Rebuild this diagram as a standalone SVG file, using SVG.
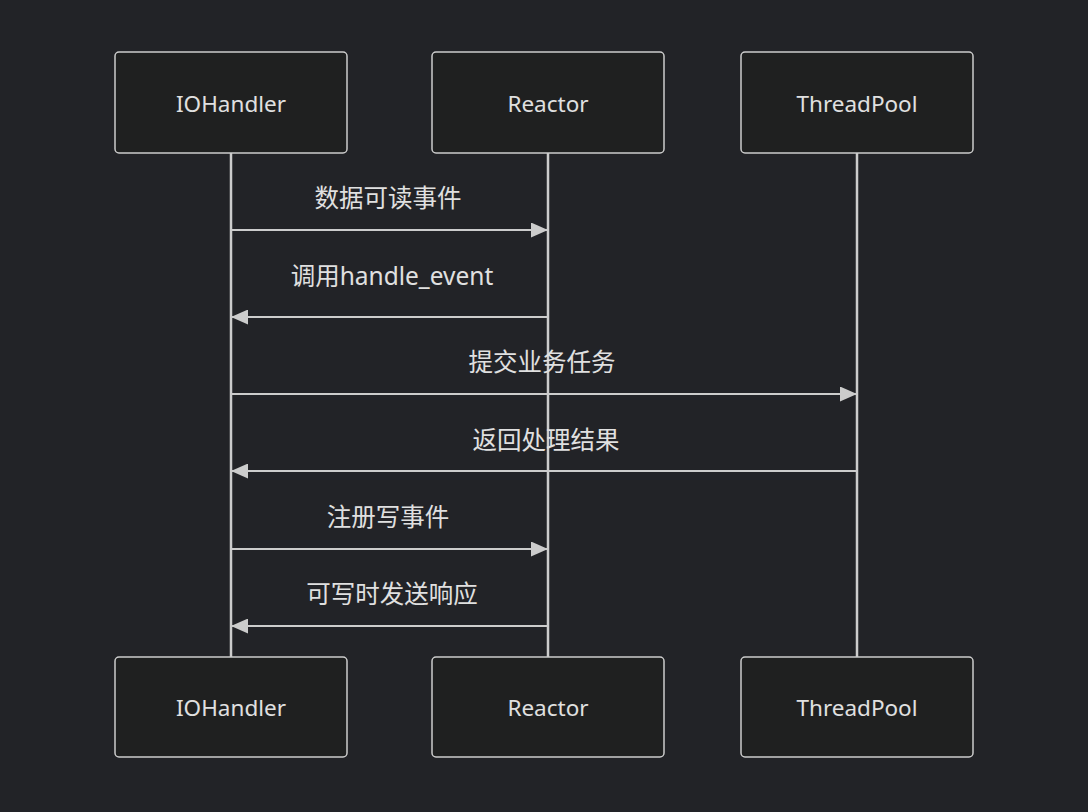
<svg xmlns="http://www.w3.org/2000/svg" width="1088" height="812" viewBox="0 0 1088 812">
  <style>
    .bg { fill: #222327; }
    .actor rect { fill: #1f2020; stroke: #cccccc; stroke-width: 1.5; }
    .actor text { fill: #e0e0e0; font-family: "Noto Sans", "Liberation Sans", sans-serif; font-size: 22.5px; text-anchor: middle; dominant-baseline: central; }
    .life { stroke: #cccccc; stroke-width: 2.5; }
    .msg { stroke: #cccccc; stroke-width: 2; fill: none; marker-end: url(#head); }
    .label { fill: #e0e0e0; font-family: "Noto Sans", "Noto Sans CJK SC", sans-serif; font-size: 24.5px; text-anchor: middle; dominant-baseline: central; }
  </style>
  <defs>
    <marker id="head" viewBox="0 0 17 15" refX="17" refY="7.5" markerWidth="17" markerHeight="15" markerUnits="userSpaceOnUse" orient="auto">
      <path d="M0,0 L17,7.5 L0,15 Z" fill="#cccccc"/>
    </marker>
  </defs>
  <rect class="bg" x="0" y="0" width="1088" height="812"/>

  <!-- lifelines -->
  <g id="lifelines">
    <line class="life" x1="231" y1="153" x2="231" y2="657"/>
    <line class="life" x1="548" y1="153" x2="548" y2="657"/>
    <line class="life" x1="857" y1="153" x2="857" y2="657"/>
  </g>

  <!-- actors, top -->
  <g id="iohandler-top" class="actor">
    <rect x="115" y="52" width="232" height="101" rx="4"/>
    <text x="231" y="103">IOHandler</text>
  </g>
  <g id="reactor-top" class="actor">
    <rect x="432" y="52" width="232" height="101" rx="4"/>
    <text x="548" y="103">Reactor</text>
  </g>
  <g id="threadpool-top" class="actor">
    <rect x="741" y="52" width="232" height="101" rx="4"/>
    <text x="857" y="103">ThreadPool</text>
  </g>

  <!-- actors, bottom -->
  <g id="iohandler-bottom" class="actor">
    <rect x="115" y="657" width="232" height="100" rx="4"/>
    <text x="231" y="707">IOHandler</text>
  </g>
  <g id="reactor-bottom" class="actor">
    <rect x="432" y="657" width="232" height="100" rx="4"/>
    <text x="548" y="707">Reactor</text>
  </g>
  <g id="threadpool-bottom" class="actor">
    <rect x="741" y="657" width="232" height="100" rx="4"/>
    <text x="857" y="707">ThreadPool</text>
  </g>

  <!-- messages -->
  <g id="connectors">
    <line class="msg" x1="231" y1="230" x2="548" y2="230"/>
    <text class="label" x="388" y="197">数据可读事件</text>
    <line class="msg" x1="548" y1="317" x2="231" y2="317"/>
    <text class="label" x="392" y="275">调用handle_event</text>
    <line class="msg" x1="231" y1="394" x2="857" y2="394"/>
    <text class="label" x="542" y="361">提交业务任务</text>
    <line class="msg" x1="857" y1="471" x2="231" y2="471"/>
    <text class="label" x="546" y="439">返回处理结果</text>
    <line class="msg" x1="231" y1="549" x2="548" y2="549"/>
    <text class="label" x="388" y="516">注册写事件</text>
    <line class="msg" x1="548" y1="626" x2="231" y2="626"/>
    <text class="label" x="392" y="593">可写时发送响应</text>
  </g>
</svg>
